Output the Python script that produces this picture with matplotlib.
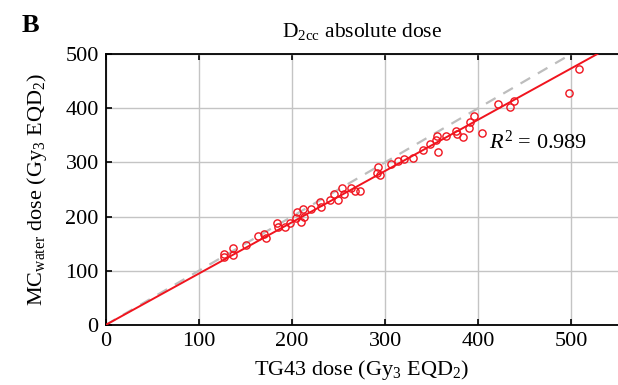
import numpy as np
import matplotlib
matplotlib.use("Agg")
import matplotlib.pyplot as plt

plt.rcParams['font.family'] = ['Liberation Serif', 'DejaVu Serif']
plt.rcParams['mathtext.fontset'] = 'custom'
plt.rcParams['mathtext.rm'] = 'Liberation Serif'
plt.rcParams['mathtext.it'] = 'Liberation Serif:italic'
plt.rcParams['mathtext.bf'] = 'Liberation Serif:bold'

# Data
tg43_dose = [126.5, 127.2, 137.2, 137.2, 150.5, 163.0, 170.2, 172.0, 183.8, 184.5,
             192.7, 198.1, 204.2, 205.9, 210.2, 211.3, 212.4, 220.3, 230.3, 231.1,
             241.1, 245.4, 248.9, 253.6, 256.1, 263.3, 267.9, 273.0, 291.9, 290.8,
             294.8, 306.2, 313.3, 320.5, 329.4, 340.2, 348.4, 356.3, 354.6, 355.6,
             365.3, 376.0, 376.7, 383.1, 390.3, 391.4, 394.9, 403.5, 421.5, 434.3,
             438.6, 496.9, 508.4]
mc_water_dose = [130.8, 125.9, 141.3, 129.5, 147.3, 163.3, 167.5, 159.6, 187.2, 179.8,
                 180.9, 187.2, 196.9, 209.2, 190.8, 213.4, 198.2, 214.7, 227.5, 217.6,
                 229.9, 242.2, 230.5, 253.2, 240.9, 253.2, 247.0, 247.0, 291.7, 280.7,
                 276.3, 296.0, 302.0, 306.4, 307.5, 323.5, 334.5, 319.8, 341.8, 347.9,
                 349.2, 357.1, 352.8, 346.8, 363.3, 373.6, 385.9, 354.1, 407.3, 401.8,
                 413.9, 427.5, 471.6]
fit_slope = 0.947
fit_intercept = 0.0
r_squared = 0.989
x_ticks = [0, 100, 200, 300, 400, 500]
y_ticks = [0, 100, 200, 300, 400, 500]

fig = plt.figure(figsize=(6.18, 3.85), dpi=100)
ax = fig.add_axes([0.171, 0.156, 0.829, 0.704])

red = '#f0141e'
line_x = np.array([0, 550])
ax.plot(line_x, line_x, linestyle=(0, (5, 4)), color='#bdbdbd', lw=1.6, zorder=2)
ax.plot(line_x, fit_slope * line_x + fit_intercept, color=red, lw=1.4, zorder=3)
ax.plot(tg43_dose, mc_water_dose, linestyle='none', marker='o', markersize=5.2,
        markerfacecolor='none', markeredgecolor=red, markeredgewidth=1.0, zorder=4)

ax.set_xlim(0, 550)
ax.set_ylim(0, 500)
ax.set_xticks(x_ticks)
ax.set_yticks(y_ticks)
ax.grid(True, color='#c4c4c4', lw=1.0, zorder=0)
ax.set_axisbelow(True)
ax.tick_params(direction='in', length=4, width=1.2, top=True, right=False,
               labelsize=16, pad=5, colors='black')
for s in ['left', 'bottom', 'top']:
    ax.spines[s].set_linewidth(1.3)
    ax.spines[s].set_color('black')
ax.spines['right'].set_visible(False)

ax.set_xlabel('TG43 dose (Gy$_3$ EQD$_2$)', fontsize=16, labelpad=5)
ax.set_ylabel('MC$_{\\mathrm{water}}$ dose (Gy$_3$ EQD$_2$)', fontsize=16, labelpad=12)
ax.set_title('D$_{\\mathrm{2cc}}$ absolute dose', fontsize=15.5, pad=12)
ax.text(411, 337, '$R^2$ = %.3f' % r_squared, fontsize=16, va='center', ha='left')
fig.text(0.035, 0.935, 'B', fontsize=19, fontweight='bold', va='center')

fig.savefig('out.png', dpi=100)
